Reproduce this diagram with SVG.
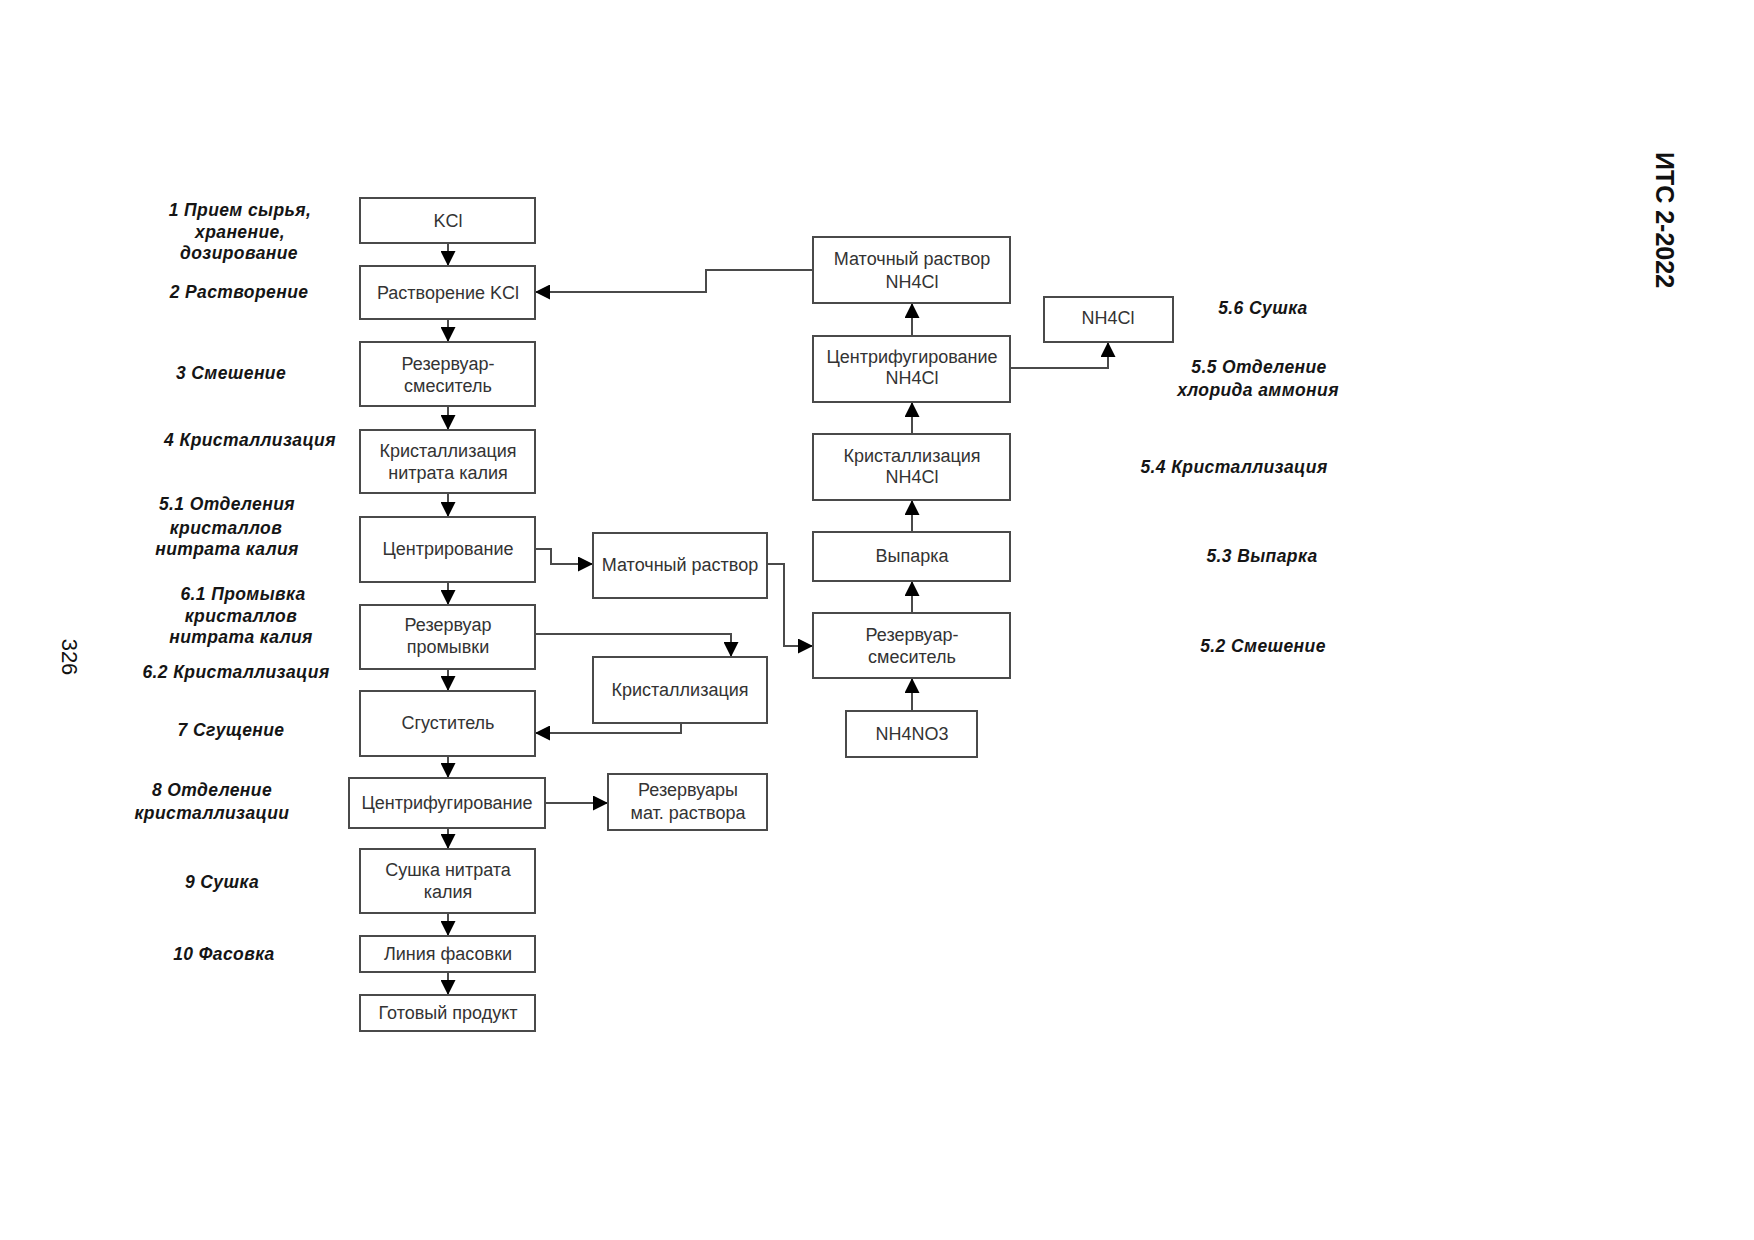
<svg xmlns="http://www.w3.org/2000/svg" width="1754" height="1240" viewBox="0 0 1754 1240">
<defs>
<style>
.box{fill:#fff;stroke:#4a4a4a;stroke-width:2}
.bt{font-family:"Liberation Sans",Arial,sans-serif;font-size:18px;fill:#333;text-anchor:middle}
.lb{font-family:"Liberation Sans",Arial,sans-serif;font-size:17.5px;font-weight:bold;font-style:italic;fill:#151515;text-anchor:middle;letter-spacing:0.4px}
.ln{fill:none;stroke:#4a4a4a;stroke-width:2}
</style>
<marker id="ah" markerUnits="userSpaceOnUse" markerWidth="15" markerHeight="15" refX="15" refY="7.5" orient="auto" viewBox="0 0 15 15">
<path d="M0,0 L15,7.5 L0,15 z" fill="#000"/>
</marker>
</defs>
<rect width="1754" height="1240" fill="#fff"/>

<g id="connectors">
<path class="ln" marker-end="url(#ah)" d="M448,243 V266"/>
<path class="ln" marker-end="url(#ah)" d="M448,319 V342"/>
<path class="ln" marker-end="url(#ah)" d="M448,406 V430"/>
<path class="ln" marker-end="url(#ah)" d="M448,493 V517"/>
<path class="ln" marker-end="url(#ah)" d="M448,582 V605"/>
<path class="ln" marker-end="url(#ah)" d="M448,669 V691"/>
<path class="ln" marker-end="url(#ah)" d="M448,756 V778"/>
<path class="ln" marker-end="url(#ah)" d="M448,828 V849"/>
<path class="ln" marker-end="url(#ah)" d="M448,913 V936"/>
<path class="ln" marker-end="url(#ah)" d="M448,972 V995"/>
<path class="ln" marker-end="url(#ah)" d="M912,711 V678"/>
<path class="ln" marker-end="url(#ah)" d="M912,613 V581"/>
<path class="ln" marker-end="url(#ah)" d="M912,532 V500"/>
<path class="ln" marker-end="url(#ah)" d="M912,434 V402"/>
<path class="ln" marker-end="url(#ah)" d="M912,336 V303"/>
<path class="ln" marker-end="url(#ah)" d="M813,270 H706 V292 H535"/>
<path class="ln" marker-end="url(#ah)" d="M535,549 H551 V564 H593"/>
<path class="ln" marker-end="url(#ah)" d="M767,564 H784 V646 H813"/>
<path class="ln" marker-end="url(#ah)" d="M535,634 H731 V657"/>
<path class="ln" marker-end="url(#ah)" d="M681,723 V733 H535"/>
<path class="ln" marker-end="url(#ah)" d="M545,803 H608"/>
<path class="ln" marker-end="url(#ah)" d="M1010,368 H1108 V342"/>
</g>

<g id="n-kcl"><rect class="box" x="360" y="198" width="175" height="45"/><text class="bt" x="448" y="227">KCl</text></g>
<g id="n-rastvorenie"><rect class="box" x="360" y="266" width="175" height="53"/><text class="bt" x="448" y="299">Растворение KCl</text></g>
<g id="n-smesitel"><rect class="box" x="360" y="342" width="175" height="64"/><text class="bt" x="448" y="370">Резервуар-</text><text class="bt" x="448" y="392">смеситель</text></g>
<g id="n-krist-kno3"><rect class="box" x="360" y="430" width="175" height="63"/><text class="bt" x="448" y="457">Кристаллизация</text><text class="bt" x="448" y="479">нитрата калия</text></g>
<g id="n-centr"><rect class="box" x="360" y="517" width="175" height="65"/><text class="bt" x="448" y="555">Центрирование</text></g>
<g id="n-promyvka"><rect class="box" x="360" y="605" width="175" height="64"/><text class="bt" x="448" y="631">Резервуар</text><text class="bt" x="448" y="653">промывки</text></g>
<g id="n-sgustitel"><rect class="box" x="360" y="691" width="175" height="65"/><text class="bt" x="448" y="729">Сгуститель</text></g>
<g id="n-centrifuga"><rect class="box" x="349" y="778" width="196" height="50"/><text class="bt" x="447" y="809">Центрифугирование</text></g>
<g id="n-sushka"><rect class="box" x="360" y="849" width="175" height="64"/><text class="bt" x="448" y="876">Сушка нитрата</text><text class="bt" x="448" y="898">калия</text></g>
<g id="n-fasovka"><rect class="box" x="360" y="936" width="175" height="36"/><text class="bt" x="448" y="960">Линия фасовки</text></g>
<g id="n-produkt"><rect class="box" x="360" y="995" width="175" height="36"/><text class="bt" x="448" y="1019">Готовый продукт</text></g>

<g id="n-matochny"><rect class="box" x="593" y="533" width="174" height="65"/><text class="bt" x="680" y="571">Маточный раствор</text></g>
<g id="n-krist"><rect class="box" x="593" y="657" width="174" height="66"/><text class="bt" x="680" y="696">Кристаллизация</text></g>
<g id="n-rezervuary"><rect class="box" x="608" y="774" width="159" height="56"/><text class="bt" x="688" y="796">Резервуары</text><text class="bt" x="688" y="819">мат. раствора</text></g>

<g id="n-matochny-nh4cl"><rect class="box" x="813" y="237" width="197" height="66"/><text class="bt" x="912" y="265">Маточный раствор</text><text class="bt" x="912" y="288">NH4Cl</text></g>
<g id="n-nh4cl"><rect class="box" x="1044" y="297" width="129" height="45"/><text class="bt" x="1108" y="324">NH4Cl</text></g>
<g id="n-centrifuga-nh4cl"><rect class="box" x="813" y="336" width="197" height="66"/><text class="bt" x="912" y="363">Центрифугирование</text><text class="bt" x="912" y="384">NH4Cl</text></g>
<g id="n-krist-nh4cl"><rect class="box" x="813" y="434" width="197" height="66"/><text class="bt" x="912" y="462">Кристаллизация</text><text class="bt" x="912" y="483">NH4Cl</text></g>
<g id="n-vyparka"><rect class="box" x="813" y="532" width="197" height="49"/><text class="bt" x="912" y="562">Выпарка</text></g>
<g id="n-smesitel-nh"><rect class="box" x="813" y="613" width="197" height="65"/><text class="bt" x="912" y="641">Резервуар-</text><text class="bt" x="912" y="663">смеситель</text></g>
<g id="n-nh4no3"><rect class="box" x="846" y="711" width="131" height="46"/><text class="bt" x="912" y="740">NH4NO3</text></g>

<g id="labels">
<text class="lb" x="240" y="216">1 Прием сырья,</text>
<text class="lb" x="240" y="238">хранение,</text>
<text class="lb" x="239" y="259">дозирование</text>
<text class="lb" x="239" y="298">2 Растворение</text>
<text class="lb" x="231" y="379">3 Смешение</text>
<text class="lb" x="250" y="446">4 Кристаллизация</text>
<text class="lb" x="227" y="510">5.1 Отделения</text>
<text class="lb" x="226" y="534">кристаллов</text>
<text class="lb" x="227" y="555">нитрата калия</text>
<text class="lb" x="243" y="600">6.1 Промывка</text>
<text class="lb" x="241" y="622">кристаллов</text>
<text class="lb" x="241" y="643">нитрата калия</text>
<text class="lb" x="236" y="678">6.2 Кристаллизация</text>
<text class="lb" x="231" y="736">7 Сгущение</text>
<text class="lb" x="212" y="796">8 Отделение</text>
<text class="lb" x="212" y="819">кристаллизации</text>
<text class="lb" x="222" y="888">9 Сушка</text>
<text class="lb" x="224" y="960">10 Фасовка</text>
<text class="lb" x="1263" y="314">5.6 Сушка</text>
<text class="lb" x="1259" y="373">5.5 Отделение</text>
<text class="lb" x="1258" y="396">хлорида аммония</text>
<text class="lb" x="1234" y="473">5.4 Кристаллизация</text>
<text class="lb" x="1262" y="562">5.3 Выпарка</text>
<text class="lb" x="1263" y="652">5.2 Смешение</text>
</g>

<g id="page">
<text transform="translate(1656,220) rotate(90)" font-family="'Liberation Sans',Arial,sans-serif" font-size="25" font-weight="bold" fill="#111" text-anchor="middle">ИТС 2-2022</text>
<text transform="translate(62,657) rotate(90)" font-family="'Liberation Sans',Arial,sans-serif" font-size="22" fill="#111" text-anchor="middle">326</text>
</g>
</svg>
